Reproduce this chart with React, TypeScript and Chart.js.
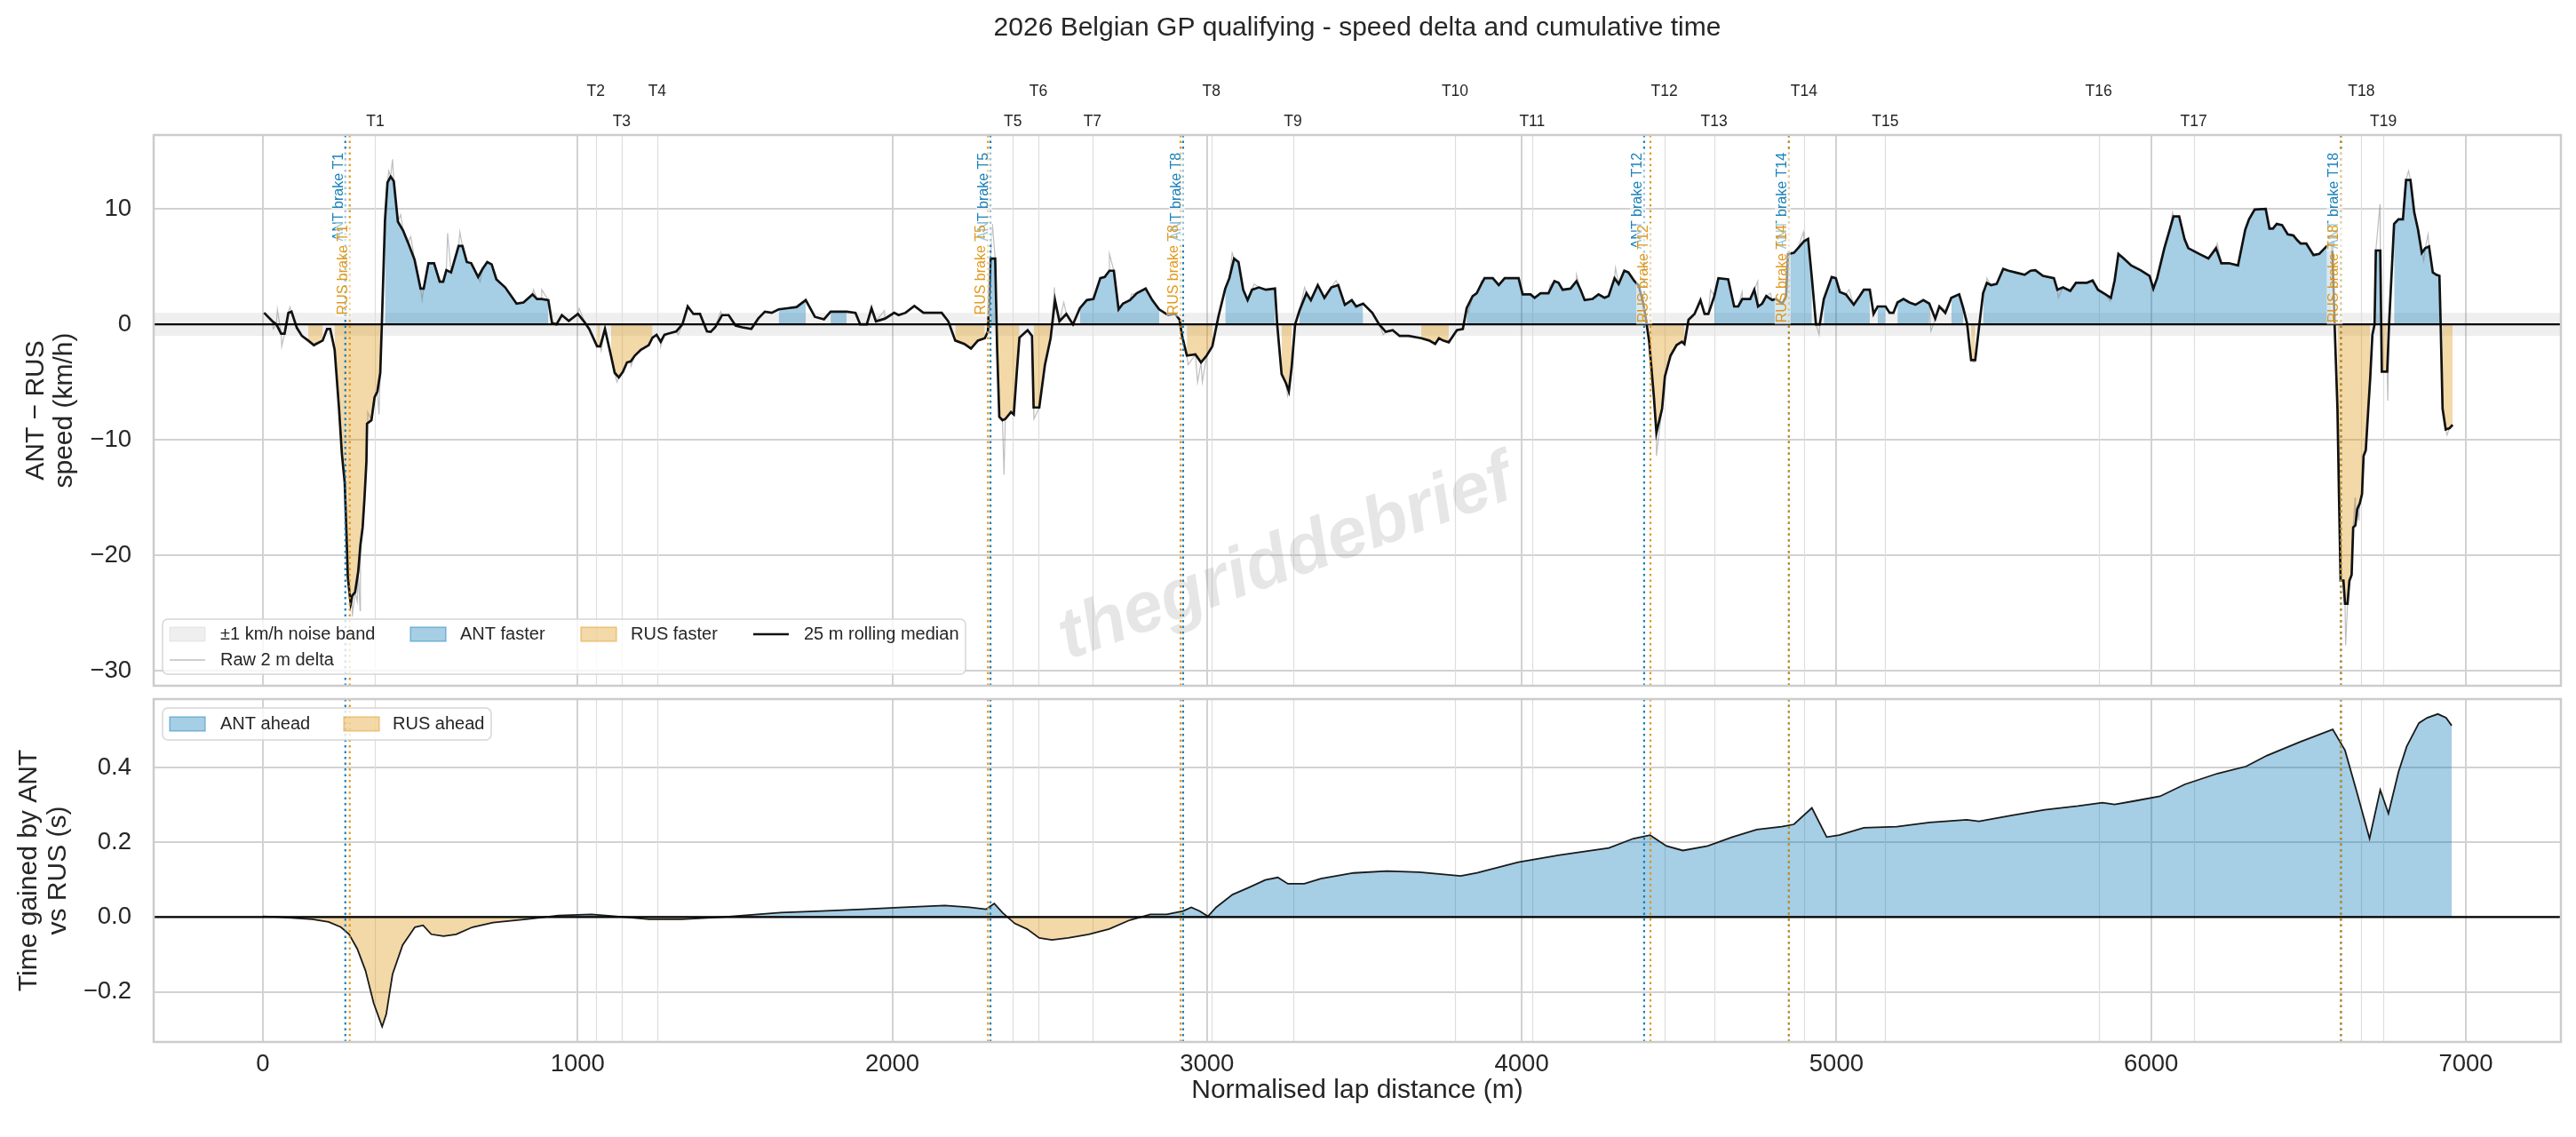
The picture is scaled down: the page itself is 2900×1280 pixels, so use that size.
import { useEffect, useRef } from "react"
import { Chart, registerables } from "chart.js"

Chart.register(...registerables)

const FONT = "'Liberation Sans', Arial, sans-serif"
const INK = "#262626"
const GRID = "#d2d2d2"
const ANT = "rgba(1, 115, 178, 0.9)"
const RUS = "rgba(222, 143, 5, 0.9)"
const ANT_FILL = "rgba(1, 115, 178, 0.35)"
const RUS_FILL = "rgba(222, 143, 5, 0.35)"

// lap distance (m) -> ANT minus RUS speed, 25 m rolling median (km/h)
const speedMedian: [number, number][] = [
  [4, 1.0], [29, 0.3], [43, 0.0], [58, -0.8], [69, -0.8], [81, 1.0], [91, 1.1], [108, -0.3], [124, -1.0], [144, -1.4],
  [162, -1.8], [190, -1.4], [204, -0.4], [214, -0.4], [228, -2.2], [242, -7.3], [251, -11.2], [260, -13.7], [265, -17.6], [270, -21.9],
  [279, -24.2], [284, -23.5], [293, -23.2], [303, -21.4], [310, -19.1], [317, -17.6], [323, -15.0], [329, -11.9], [331, -8.6], [345, -8.3],
  [350, -7.3], [355, -6.3], [364, -5.8], [373, -4.2], [378, 0.0], [388, 9.0], [396, 12.3], [406, 12.8], [416, 12.4], [429, 8.9],
  [446, 8.1], [461, 7.1], [482, 5.6], [501, 3.1], [511, 3.1], [526, 5.3], [544, 5.3], [562, 3.7], [573, 3.7], [583, 4.7],
  [598, 4.5], [622, 6.8], [634, 6.8], [648, 5.4], [662, 5.3], [684, 4.1], [698, 4.8], [713, 5.4], [727, 5.2], [742, 3.9],
  [770, 3.2], [806, 1.8], [828, 1.9], [857, 2.6], [871, 2.2], [886, 2.2], [907, 2.1], [919, 0.1], [933, 0.0], [950, 0.8],
  [972, 0.3], [1001, 0.9], [1022, 0.2], [1037, -0.4], [1062, -1.9], [1072, -1.9], [1087, -0.4], [1106, -2.7], [1118, -4.2], [1131, -4.6],
  [1144, -4.1], [1157, -3.3], [1169, -3.2], [1182, -2.7], [1201, -2.2], [1226, -1.8], [1238, -1.15], [1251, -0.9], [1264, -1.5], [1276, -0.9],
  [1289, -0.8], [1314, -0.6], [1333, 0.0], [1350, 1.55], [1368, 0.9], [1389, 0.9], [1411, -0.6], [1423, -0.65], [1437, -0.26], [1459, 0.8],
  [1480, 0.8], [1502, -0.1], [1523, -0.26], [1552, -0.4], [1574, 0.5], [1595, 1.1], [1617, 1.0], [1639, 1.3], [1667, 1.4], [1696, 1.5],
  [1725, 2.1], [1754, 0.65], [1783, 0.44], [1804, 1.1], [1855, 1.1], [1883, 1.0], [1898, 0.0], [1919, 0.0], [1934, 1.4], [1948, 0.26],
  [1977, 0.5], [2006, 1.0], [2020, 0.8], [2042, 1.0], [2070, 1.6], [2099, 1.0], [2157, 1.0], [2178, 0.26], [2200, -1.4], [2229, -1.7],
  [2250, -2.1], [2272, -1.4], [2294, -1.2], [2304, -0.6], [2312, 5.7], [2327, 5.7], [2333, -2.0], [2340, -8.0], [2350, -8.3], [2359, -8.2],
  [2377, -7.6], [2386, -7.8], [2396, -4.0], [2404, -1.15], [2430, -0.5], [2444, -1.0], [2449, -7.2], [2467, -7.2], [2485, -3.5], [2503, -1.2],
  [2517, 2.1], [2531, 0.26], [2553, 0.9], [2574, 0.0], [2596, 1.4], [2618, 2.1], [2639, 2.2], [2661, 4.0], [2675, 4.1], [2690, 4.65],
  [2704, 4.65], [2719, 1.3], [2733, 1.8], [2755, 2.1], [2777, 2.7], [2805, 3.1], [2826, 2.1], [2848, 1.3], [2877, 0.8], [2899, 0.9],
  [2913, 0.4], [2920, -0.9], [2936, -2.7], [2963, -2.6], [2981, -3.3], [2999, -2.7], [3017, -1.9], [3036, 0.65], [3058, 3.1], [3071, 4.0],
  [3086, 5.7], [3100, 5.4], [3115, 3.0], [3129, 2.1], [3143, 3.0], [3165, 3.2], [3187, 3.0], [3216, 3.1], [3223, 0.0], [3237, -4.3],
  [3251, -5.1], [3260, -5.8], [3269, -3.7], [3280, 0.0], [3294, 1.2], [3316, 2.7], [3330, 2.1], [3352, 3.4], [3373, 2.3], [3395, 3.2],
  [3417, 3.4], [3438, 1.7], [3460, 2.1], [3474, 1.55], [3496, 1.8], [3525, 1.0], [3547, 0.0], [3568, -0.65], [3590, -0.5], [3612, -1.0],
  [3641, -1.0], [3681, -1.2], [3706, -1.4], [3725, -1.7], [3737, -1.2], [3750, -1.4], [3768, -1.55], [3794, -0.5], [3813, -0.4], [3825, 1.4],
  [3844, 2.45], [3857, 2.7], [3870, 3.4], [3882, 4.0], [3908, 4.0], [3927, 3.4], [3946, 4.0], [3990, 4.0], [4003, 2.6], [4028, 2.6],
  [4041, 2.3], [4060, 2.7], [4085, 2.7], [4104, 3.75], [4117, 3.6], [4130, 3.0], [4155, 3.1], [4174, 3.75], [4187, 3.0], [4200, 2.1],
  [4225, 2.2], [4244, 2.6], [4263, 2.3], [4276, 2.45], [4295, 4.0], [4308, 3.5], [4326, 4.65], [4339, 4.5], [4358, 3.75], [4371, 3.4],
  [4385, 2.0], [4395, 0.4], [4405, -1.5], [4420, -6.3], [4428, -9.4], [4446, -7.3], [4455, -4.5], [4473, -2.7], [4492, -1.8], [4509, -1.5],
  [4517, -1.7], [4530, 0.4], [4549, 0.9], [4568, 2.1], [4581, 0.9], [4593, 0.9], [4612, 2.45], [4625, 4.0], [4656, 3.9], [4675, 1.55],
  [4688, 1.55], [4701, 2.2], [4726, 2.2], [4739, 3.0], [4751, 1.55], [4764, 1.8], [4777, 2.45], [4796, 2.1], [4808, 2.2], [4828, 1.8],
  [4840, 2.45], [4846, 6.1], [4865, 6.2], [4878, 6.6], [4897, 7.2], [4910, 7.4], [4922, 4.0], [4935, 0.0], [4947, 0.0], [4960, 2.2],
  [4985, 4.1], [4998, 4.0], [5011, 2.8], [5030, 2.6], [5055, 1.7], [5074, 2.45], [5087, 3.0], [5106, 3.0], [5118, 0.9], [5131, 1.55],
  [5156, 1.55], [5169, 1.0], [5181, 1.0], [5194, 1.9], [5213, 2.2], [5232, 1.9], [5251, 1.7], [5276, 2.1], [5295, 1.8], [5314, 0.5],
  [5327, 1.55], [5346, 1.0], [5365, 2.3], [5390, 2.6], [5403, 1.4], [5415, 0.1], [5428, -3.1], [5441, -3.1], [5453, -0.26], [5466, 2.7],
  [5478, 3.6], [5491, 3.4], [5509, 3.5], [5530, 4.8], [5547, 4.65], [5568, 4.5], [5598, 4.3], [5617, 4.65], [5632, 4.7], [5656, 4.2],
  [5691, 4.0], [5702, 3.0], [5720, 3.2], [5743, 2.9], [5761, 3.6], [5796, 3.6], [5814, 3.8], [5831, 3.0], [5855, 2.6], [5872, 2.3],
  [5884, 3.8], [5896, 6.1], [5913, 5.7], [5937, 5.1], [5966, 4.7], [5995, 4.2], [6007, 3.1], [6019, 4.0], [6042, 6.6], [6059, 8.2],
  [6071, 9.35], [6089, 9.35], [6106, 7.4], [6118, 6.6], [6153, 6.1], [6182, 5.7], [6206, 6.6], [6223, 5.3], [6247, 5.3], [6276, 5.1],
  [6299, 8.2], [6311, 9.1], [6329, 9.95], [6364, 10.0], [6376, 8.3], [6387, 8.3], [6399, 8.7], [6416, 8.6], [6434, 7.8], [6452, 7.7],
  [6464, 7.3], [6475, 7.0], [6493, 7.0], [6516, 6.0], [6534, 6.1], [6557, 6.75], [6575, 7.1], [6583, 0.0], [6592, -7.3], [6597, -15.0],
  [6602, -22.2], [6611, -22.2], [6616, -24.2], [6624, -24.2], [6630, -22.2], [6637, -21.7], [6642, -17.6], [6649, -17.4], [6655, -16.0], [6663, -15.5],
  [6670, -14.7], [6675, -11.4], [6682, -10.9], [6690, -7.3], [6696, -4.7], [6703, -0.9], [6710, 0.0], [6714, 6.4], [6728, 6.4], [6733, -4.1],
  [6750, -4.1], [6756, 0.0], [6772, 8.7], [6786, 9.1], [6800, 9.1], [6810, 12.5], [6824, 12.5], [6836, 9.7], [6848, 8.2], [6860, 6.2],
  [6871, 6.6], [6883, 6.75], [6895, 4.5], [6906, 4.3], [6916, 4.2], [6920, 0.0], [6926, -7.3], [6936, -9.1], [6948, -9.0], [6958, -8.7],
]

// raw 2 m samples that stick out of the median (km/h)
const rawSpikes: [number, number][] = [
  [33, -0.4], [46, 1.3], [60, -1.9], [86, 1.5], [230, -2.6], [284, -25.3], [300, -24.0], [309, -24.8], [333, -7.6], [369, -7.8],
  [400, 13.3], [412, 14.3], [438, 9.5], [470, 7.6], [506, 2.1], [587, 7.9], [626, 8.0], [690, 3.7], [860, 3.0], [886, 3.0],
  [1005, 1.4], [1075, -2.3], [1125, -5.0], [1170, -3.6], [1264, -1.9], [1320, -0.9], [1455, 1.1], [1975, 1.2], [2318, 8.7], [2355, -13.0],
  [2450, -8.2], [2515, 3.2], [2545, 1.9], [2690, 6.1], [2760, 2.6], [2940, -3.5], [2970, -5.0], [2985, -5.0], [3080, 6.2], [3150, 3.5],
  [3256, -6.2], [3310, 3.2], [3410, 3.8], [3560, -0.9], [3830, 1.0], [3870, 3.7], [4090, 3.4], [4174, 4.3], [4298, 4.9], [4428, -11.4],
  [4560, 1.4], [4600, 3.0], [4700, 2.8], [4750, 3.75], [4790, 2.7], [4850, 6.0], [4895, 8.0], [4945, -0.9], [5040, 3.0], [5300, -0.6],
  [5345, 1.3], [5438, -3.3], [5478, 4.0], [5705, 2.3], [5870, 2.0], [6068, 9.7], [6210, 7.0], [6618, -27.8], [6648, -15.0], [6660, -17.0],
  [6727, 10.4], [6752, -6.6], [6818, 13.3], [6850, 7.7], [6866, 5.5], [6880, 7.8], [6940, -9.6],
]

// lap distance (m) -> cumulative time gained by ANT vs RUS (s)
const timeGained: [number, number][] = [
  [0, 0.002], [52, 0.0], [104, -0.003], [157, -0.006], [209, -0.013], [248, -0.027], [274, -0.046], [300, -0.085], [326, -0.143], [352, -0.23],
  [379, -0.293], [392, -0.26], [412, -0.153], [444, -0.075], [483, -0.027], [509, -0.022], [535, -0.046], [574, -0.051], [614, -0.046], [666, -0.027],
  [731, -0.015], [836, -0.006], [940, 0.004], [1044, 0.007], [1149, 0.0], [1227, -0.006], [1332, -0.006], [1462, 0.0], [1645, 0.012], [1775, 0.016],
  [1906, 0.021], [2037, 0.026], [2167, 0.031], [2245, 0.026], [2298, 0.021], [2324, 0.036], [2350, 0.012], [2389, -0.017], [2428, -0.032], [2467, -0.056],
  [2507, -0.061], [2559, -0.056], [2624, -0.046], [2689, -0.032], [2755, -0.008], [2820, 0.007], [2872, 0.007], [2924, 0.016], [2950, 0.026], [2977, 0.016],
  [3003, 0.002], [3029, 0.026], [3081, 0.06], [3133, 0.079], [3185, 0.099], [3225, 0.106], [3257, 0.089], [3309, 0.089], [3362, 0.103], [3466, 0.118],
  [3571, 0.123], [3675, 0.12], [3806, 0.11], [3858, 0.118], [3989, 0.147], [4120, 0.166], [4277, 0.185], [4355, 0.21], [4408, 0.219], [4460, 0.19],
  [4512, 0.178], [4591, 0.19], [4669, 0.214], [4747, 0.234], [4826, 0.242], [4865, 0.248], [4922, 0.292], [4969, 0.214], [5009, 0.219], [5087, 0.239],
  [5192, 0.242], [5296, 0.253], [5414, 0.26], [5453, 0.256], [5558, 0.272], [5662, 0.287], [5767, 0.297], [5845, 0.306], [5884, 0.301], [5950, 0.311],
  [6028, 0.323], [6107, 0.355], [6211, 0.384], [6302, 0.403], [6368, 0.432], [6472, 0.468], [6577, 0.502], [6616, 0.446], [6655, 0.33], [6694, 0.21],
  [6728, 0.34], [6754, 0.277], [6786, 0.388], [6812, 0.456], [6851, 0.519], [6877, 0.533], [6911, 0.543], [6937, 0.533], [6955, 0.512],
]

const turnNames = ["T1", "T2", "T3", "T4", "T5", "T6", "T7", "T8", "T9", "T10", "T11", "T12", "T13", "T14", "T15", "T16", "T17", "T18", "T19"]
const turnDist = [357, 1058, 1140, 1253, 2383, 2464, 2636, 3014, 3273, 3788, 4033, 4453, 4611, 4897, 5155, 5833, 6135, 6668, 6738]

const brakeTurns = ["T1", "T5", "T8", "T12", "T14", "T18"]
const antBrake = [262, 2312, 2924, 4389, 4849, 6603]
const rusBrake = [276, 2304, 2916, 4409, 4849, 6603]

const distTicks = [0, 1000, 2000, 3000, 4000, 5000, 6000, 7000]
const speedTicks = [-30, -20, -10, 0, 10]
const gapTicks = [-0.2, 0.0, 0.2, 0.4]

const X_MIN = -347
const X_MAX = 7302

const minus = (s: string) => s.replace("-", "\u2212")

function pts(list: [number, number][]) {
  return list.map(([x, y]) => ({ x, y }))
}

function drawTurnLines(ctx: CanvasRenderingContext2D, chart: any) {
  const a = chart.chartArea
  const x = chart.scales.x
  ctx.save()
  ctx.strokeStyle = "#dedede"
  ctx.lineWidth = 1.2
  turnDist.forEach((d) => {
    const px = Math.round(x.getPixelForValue(d)) + 0.5
    ctx.beginPath()
    ctx.moveTo(px, a.top)
    ctx.lineTo(px, a.bottom)
    ctx.stroke()
  })
  ctx.restore()
}

function drawZeroAndBrakes(ctx: CanvasRenderingContext2D, chart: any) {
  const a = chart.chartArea
  const x = chart.scales.x
  const y = chart.scales.y
  ctx.save()
  const y0 = y.getPixelForValue(0)
  ctx.strokeStyle = "#000"
  ctx.lineWidth = 2.2
  ctx.beginPath()
  ctx.moveTo(a.left, y0)
  ctx.lineTo(a.right, y0)
  ctx.stroke()

  ctx.lineWidth = 2.2
  ctx.setLineDash([2.5, 4])
  const line = (d: number, color: string) => {
    const px = x.getPixelForValue(d)
    ctx.strokeStyle = color
    ctx.beginPath()
    ctx.moveTo(px, a.top)
    ctx.lineTo(px, a.bottom)
    ctx.stroke()
  }
  brakeTurns.forEach((_, i) => {
    line(antBrake[i], ANT)
    line(rusBrake[i], RUS)
  })
  ctx.restore()
}

function drawFrame(ctx: CanvasRenderingContext2D, chart: any) {
  const a = chart.chartArea
  ctx.save()
  ctx.strokeStyle = "#cccccc"
  ctx.lineWidth = 2.5
  ctx.strokeRect(a.left, a.top, a.right - a.left, a.bottom - a.top)
  ctx.restore()
}

function yTitle(ctx: CanvasRenderingContext2D, lines: string[], xs: number[], cy: number) {
  ctx.save()
  ctx.font = `30px ${FONT}`
  ctx.fillStyle = INK
  ctx.textAlign = "center"
  ctx.textBaseline = "middle"
  lines.forEach((t, i) => {
    ctx.save()
    ctx.translate(xs[i], cy)
    ctx.rotate(-Math.PI / 2)
    ctx.fillText(t, 0, 0)
    ctx.restore()
  })
  ctx.restore()
}

function legendBox(ctx: CanvasRenderingContext2D, x: number, y: number, w: number, h: number) {
  ctx.save()
  ctx.beginPath()
  ctx.roundRect(x, y, w, h, 6)
  ctx.fillStyle = "rgba(255,255,255,0.8)"
  ctx.fill()
  ctx.strokeStyle = "#d6d6d6"
  ctx.lineWidth = 1.5
  ctx.stroke()
  ctx.restore()
}

function legendPatch(ctx: CanvasRenderingContext2D, x: number, cy: number, fill: string, edge: string) {
  ctx.save()
  ctx.fillStyle = fill
  ctx.fillRect(x, cy - 8, 40, 16)
  ctx.strokeStyle = edge
  ctx.lineWidth = 1.5
  ctx.strokeRect(x, cy - 8, 40, 16)
  ctx.restore()
}

function legendLine(ctx: CanvasRenderingContext2D, x: number, cy: number, color: string, w: number) {
  ctx.save()
  ctx.strokeStyle = color
  ctx.lineWidth = w
  ctx.beginPath()
  ctx.moveTo(x, cy)
  ctx.lineTo(x + 40, cy)
  ctx.stroke()
  ctx.restore()
}

function legendText(ctx: CanvasRenderingContext2D, t: string, x: number, cy: number) {
  ctx.save()
  ctx.font = `20px ${FONT}`
  ctx.fillStyle = INK
  ctx.textAlign = "left"
  ctx.textBaseline = "middle"
  ctx.fillText(t, x, cy)
  ctx.restore()
}

function brakeLabel(ctx: CanvasRenderingContext2D, text: string, x: number, top: number, color: string) {
  ctx.save()
  ctx.translate(x, top)
  ctx.rotate(-Math.PI / 2)
  ctx.font = `16px ${FONT}`
  const w = ctx.measureText(text).width
  ctx.fillStyle = "rgba(255,255,255,0.55)"
  ctx.fillRect(-w - 2, -16, w + 4, 18)
  ctx.fillStyle = color
  ctx.textAlign = "right"
  ctx.textBaseline = "alphabetic"
  ctx.fillText(text, 0, -3)
  ctx.restore()
}

const speedDecor = {
  id: "speedDecor",
  beforeDatasetsDraw(chart: any) {
    const { ctx, chartArea: a, scales } = chart
    const y = scales.y
    ctx.save()
    const yTop = y.getPixelForValue(1)
    const yBot = y.getPixelForValue(-1)
    ctx.fillStyle = "rgba(128,128,128,0.13)"
    ctx.fillRect(a.left, yTop, a.right - a.left, yBot - yTop)
    ctx.restore()
    drawTurnLines(ctx, chart)
  },
  afterDatasetsDraw(chart: any) {
    drawZeroAndBrakes(chart.ctx, chart)
  },
  afterDraw(chart: any) {
    const { ctx, chartArea: a, scales } = chart
    const x = scales.x
    drawFrame(ctx, chart)

    // title
    ctx.save()
    ctx.font = `30px ${FONT}`
    ctx.fillStyle = INK
    ctx.textAlign = "center"
    ctx.textBaseline = "alphabetic"
    ctx.fillText("2026 Belgian GP qualifying - speed delta and cumulative time", (a.left + a.right) / 2, 40)

    // turn labels on two rows
    ctx.font = `17.5px ${FONT}`
    turnNames.forEach((t, i) => {
      ctx.fillText(t, x.getPixelForValue(turnDist[i]), i % 2 === 0 ? 142 : 108)
    })
    ctx.restore()

    // brake labels: ANT first, RUS drawn over it
    const h = a.bottom - a.top
    brakeTurns.forEach((t, i) => {
      brakeLabel(ctx, `ANT brake ${t}`, x.getPixelForValue(antBrake[i]), a.top + 0.032 * h, ANT)
      brakeLabel(ctx, `RUS brake ${t}`, x.getPixelForValue(rusBrake[i]), a.top + 0.163 * h, RUS)
    })

    yTitle(ctx, ["ANT \u2212 RUS", "speed (km/h)"], [41, 73], (a.top + a.bottom) / 2)

    // watermark
    ctx.save()
    ctx.translate(1448, 630)
    ctx.rotate((-20 * Math.PI) / 180)
    ctx.font = `italic bold 80px ${FONT}`
    ctx.fillStyle = "rgba(128,128,128,0.2)"
    ctx.textAlign = "center"
    ctx.textBaseline = "middle"
    ctx.fillText("thegriddebrief", 0, 0)
    ctx.restore()

    // legend
    legendBox(ctx, 183, 697, 904, 62)
    legendPatch(ctx, 191, 714, "rgba(128,128,128,0.13)", "rgba(128,128,128,0.1)")
    legendText(ctx, "\u00b11 km/h noise band", 248, 714)
    legendLine(ctx, 191, 743, "rgba(128,128,128,0.5)", 1.5)
    legendText(ctx, "Raw 2 m delta", 248, 743)
    legendPatch(ctx, 462, 714, ANT_FILL, "rgba(1,115,178,0.4)")
    legendText(ctx, "ANT faster", 518, 714)
    legendPatch(ctx, 654, 714, RUS_FILL, "rgba(222,143,5,0.4)")
    legendText(ctx, "RUS faster", 710, 714)
    legendLine(ctx, 848, 714, "#111", 2.7)
    legendText(ctx, "25 m rolling median", 905, 714)
  },
}

const gapDecor = {
  id: "gapDecor",
  beforeDatasetsDraw(chart: any) {
    drawTurnLines(chart.ctx, chart)
  },
  afterDatasetsDraw(chart: any) {
    drawZeroAndBrakes(chart.ctx, chart)
  },
  afterDraw(chart: any) {
    const { ctx, chartArea: a } = chart
    drawFrame(ctx, chart)
    yTitle(ctx, ["Time gained by ANT", "vs RUS (s)"], [33, 66], (a.top + a.bottom) / 2)

    ctx.save()
    ctx.font = `30px ${FONT}`
    ctx.fillStyle = INK
    ctx.textAlign = "center"
    ctx.textBaseline = "middle"
    ctx.fillText("Normalised lap distance (m)", (a.left + a.right) / 2, 448)
    ctx.restore()

    legendBox(ctx, 183, 17, 370, 36)
    legendPatch(ctx, 191, 35, ANT_FILL, "rgba(1,115,178,0.4)")
    legendText(ctx, "ANT ahead", 248, 35)
    legendPatch(ctx, 387, 35, RUS_FILL, "rgba(222,143,5,0.4)")
    legendText(ctx, "RUS ahead", 442, 35)
  },
}

function xScale(showLabels: boolean, height: number) {
  return {
    type: "linear" as const,
    min: X_MIN,
    max: X_MAX,
    afterBuildTicks: (s: any) => {
      s.ticks = distTicks.map((value) => ({ value }))
    },
    afterFit: (s: any) => {
      s.height = height
      s.paddingLeft = 0
      s.paddingRight = 0
      s.paddingTop = 0
      s.paddingBottom = 0
    },
    ticks: {
      display: showLabels,
      autoSkip: false,
      maxRotation: 0,
      padding: 9,
      color: INK,
      font: { family: FONT, size: 27.5 },
      callback: (v: any) => String(v),
    },
    grid: { color: GRID, lineWidth: 2, drawTicks: false },
    border: { display: false },
  }
}

function yScale(min: number, max: number, ticks: number[], fmt: (v: number) => string) {
  return {
    min,
    max,
    afterBuildTicks: (s: any) => {
      s.ticks = ticks.map((value) => ({ value }))
    },
    afterFit: (s: any) => {
      s.width = 173
      s.paddingTop = 0
      s.paddingBottom = 0
      s.paddingLeft = 0
      s.paddingRight = 0
    },
    ticks: {
      padding: 25,
      color: INK,
      font: { family: FONT, size: 27.5 },
      callback: (v: any) => fmt(Number(v)),
    },
    grid: { color: GRID, lineWidth: 2, drawTicks: false },
    border: { display: false },
  }
}

export default function App() {
  const speedRef = useRef<HTMLCanvasElement>(null)
  const gapRef = useRef<HTMLCanvasElement>(null)

  useEffect(() => {
    if (!speedRef.current || !gapRef.current) return

    // raw trace = median samples plus the spiky 2 m readings
    const raw = [...speedMedian, ...rawSpikes].sort((p, q) => p[0] - q[0])

    const speedChart = new Chart(speedRef.current, {
      type: "line",
      data: {
        datasets: [
          {
            label: "25 m rolling median",
            data: pts(speedMedian),
            borderColor: "#111111",
            borderWidth: 2.7,
            pointRadius: 0,
            order: 0,
          },
          {
            label: "Raw 2 m delta",
            data: pts(raw),
            borderColor: "rgba(128,128,128,0.5)",
            borderWidth: 1.2,
            pointRadius: 0,
            order: 1,
          },
          {
            label: "ANT faster",
            data: speedMedian.map(([x, y]) => ({ x, y: y > 1 ? y : null })),
            borderColor: "rgba(1,115,178,0.3)",
            borderWidth: 1,
            backgroundColor: ANT_FILL,
            fill: { value: 0 },
            pointRadius: 0,
            order: 2,
          },
          {
            label: "RUS faster",
            data: speedMedian.map(([x, y]) => ({ x, y: y < -1 ? y : null })),
            borderColor: "rgba(222,143,5,0.3)",
            borderWidth: 1,
            backgroundColor: RUS_FILL,
            fill: { value: 0 },
            pointRadius: 0,
            order: 3,
          },
        ],
      },
      options: {
        responsive: false,
        animation: false,
        events: [],
        layout: { padding: { top: 152, right: 17, bottom: 0, left: 0 } },
        elements: { line: { tension: 0 } },
        plugins: { legend: { display: false }, tooltip: { enabled: false } },
        scales: {
          x: xScale(false, 8),
          y: yScale(-31.3, 16.4, speedTicks, (v) => minus(String(v))),
        },
      },
      plugins: [speedDecor],
    } as any)

    const gapChart = new Chart(gapRef.current, {
      type: "line",
      data: {
        datasets: [
          {
            label: "Time gained",
            data: pts(timeGained),
            borderColor: "#1a1a1a",
            borderWidth: 1.8,
            pointRadius: 0,
            fill: { target: { value: 0 }, above: ANT_FILL, below: RUS_FILL },
          },
        ],
      },
      options: {
        responsive: false,
        animation: false,
        events: [],
        layout: { padding: { top: 7, right: 17, bottom: 0, left: 0 } },
        elements: { line: { tension: 0 } },
        plugins: { legend: { display: false }, tooltip: { enabled: false } },
        scales: {
          x: xScale(true, 107),
          y: yScale(-0.334, 0.583, gapTicks, (v) => minus(v.toFixed(1))),
        },
      },
      plugins: [gapDecor],
    } as any)

    return () => {
      speedChart.destroy()
      gapChart.destroy()
    }
  }, [])

  return (
    <div style={{ position: "absolute", left: 0, top: 0, width: 2900, height: 1280, background: "#fff" }}>
      <canvas
        ref={speedRef}
        width={2900}
        height={780}
        style={{ position: "absolute", left: 0, top: 0, width: 2900, height: 780 }}
      />
      <canvas
        ref={gapRef}
        width={2900}
        height={500}
        style={{ position: "absolute", left: 0, top: 780, width: 2900, height: 500 }}
      />
    </div>
  )
}
